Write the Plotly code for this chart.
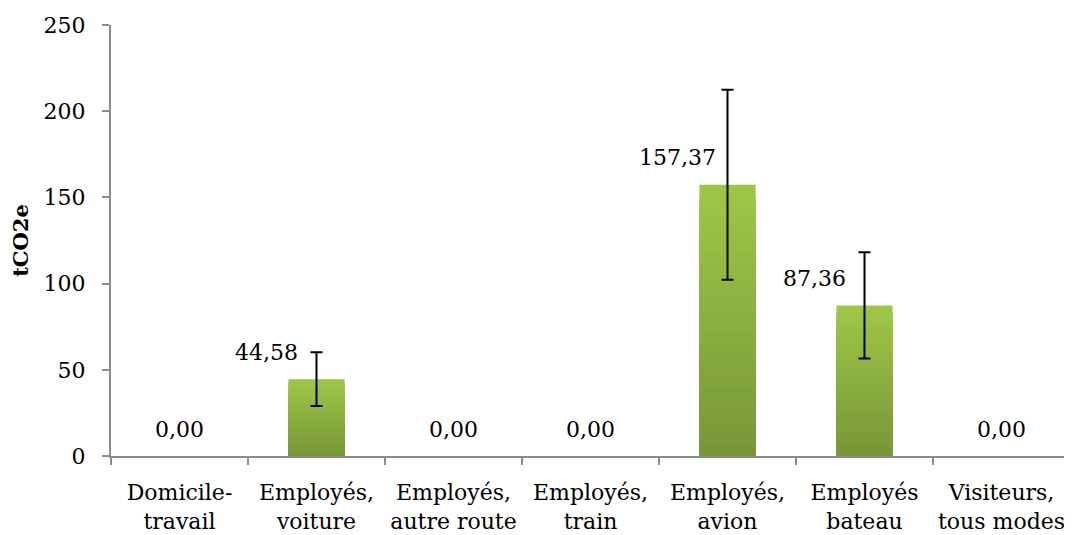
import plotly.graph_objects as go

categories = ["Domicile-<br>travail", "Employés,<br>voiture", "Employés,<br>autre route",
              "Employés,<br>train", "Employés,<br>avion", "Employés<br>bateau", "Visiteurs,<br>tous modes"]
values = [0.00, 44.58, 0.00, 0.00, 157.37, 87.36, 0.00]
errors = [None, 15.6, None, None, 55.1, 30.8, None]
labels = ["0,00", "44,58", "0,00", "0,00", "157,37", "87,36", "0,00"]

FONT = "DejaVu Serif"
FS = 22
fig = go.Figure()

# vertical gradient (light top -> dark bottom) via overlaid bars
N = 24
top_rgb = (158, 198, 70)
bot_rgb = (120, 152, 56)
for k in range(N, 0, -1):
    f = k / N
    t = (N - k) / (N - 1)
    c = tuple(int(round(top_rgb[i] + (bot_rgb[i] - top_rgb[i]) * t)) for i in range(3))
    fig.add_trace(go.Bar(
        x=categories, y=[v * f for v in values],
        marker=dict(color="rgb(%d,%d,%d)" % c, line=dict(width=0)),
        showlegend=False, hoverinfo="skip",
    ))

# error bars only where defined
ex = [c for c, e in zip(categories, errors) if e is not None]
ey = [v for v, e in zip(values, errors) if e is not None]
ee = [e for e in errors if e is not None]
fig.add_trace(go.Bar(
    x=ex, y=ey,
    marker=dict(color="rgba(0,0,0,0)", line=dict(width=0)),
    error_y=dict(type="data", array=ee, visible=True, color="black", thickness=2, width=6),
    showlegend=False, hoverinfo="skip",
))

for c, v, lab in zip(categories, values, labels):
    fig.add_annotation(x=c, y=v, text=lab, showarrow=False,
                       xshift=(-50 if v > 0 else 0), yshift=27,
                       yanchor="middle",
                       font=dict(family=FONT, size=FS, color="black"))

fig.update_layout(
    barmode="overlay", bargap=0.59,
    width=1064, height=527,
    margin=dict(l=103, r=2, t=17, b=79),
    plot_bgcolor="white", paper_bgcolor="white",
    font=dict(family=FONT, size=FS, color="black"),
)
fig.update_xaxes(categoryorder="array", categoryarray=categories,
                 showline=True, linecolor="#8c8c8c", linewidth=2,
                 ticks="outside", ticklen=7, tickcolor="#8c8c8c", tickwidth=1.5,
                 tickson="boundaries", showgrid=False, tickfont=dict(family=FONT, size=FS),
                 tickangle=0, automargin=False,
                 ticklabelstandoff=16, fixedrange=True)
fig.update_yaxes(range=[0, 250], dtick=50, showline=True, linecolor="#8c8c8c", linewidth=2,
                 ticks="outside", ticklen=7, tickcolor="#8c8c8c", tickwidth=1.5,
                 showgrid=False, zeroline=False, ticklabelstandoff=12, automargin=False,
                 title=dict(text="<b>tCO2e</b>", font=dict(family=FONT, size=FS - 1), standoff=12),
                 tickfont=dict(family=FONT, size=FS))
fig.write_html("out.html")
